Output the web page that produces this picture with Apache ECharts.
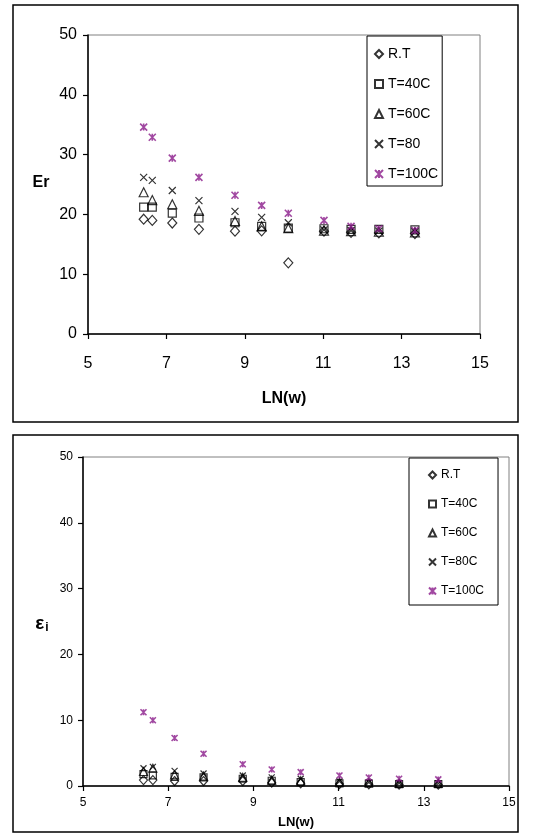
<!DOCTYPE html>
<html><head><meta charset="utf-8">
<script src="https://cdn.jsdelivr.net/npm/echarts@6/dist/echarts.min.js"></script>
<style>html,body{margin:0;padding:0;background:#fff}#c{width:533px;height:833px}</style>
</head><body><div id="c"></div>
<script>
const xVals = [6.42, 6.64, 7.15, 7.83, 8.75, 9.43, 10.11, 11.02, 11.71, 12.42, 13.34];
const topNames = ['R.T', 'T=40C', 'T=60C', 'T=80', 'T=100C'];
const botNames = ['R.T', 'T=40C', 'T=60C', 'T=80C', 'T=100C'];
const xTicks = [5, 7, 9, 11, 13, 15];
const yTicks = [0, 10, 20, 30, 40, 50];

const erRT  = [19.2, 19.0, 18.55, 17.5, 17.2, 17.25, 11.9, 17.2, 17.0, 16.9, 16.8];
const er40  = [21.2, 21.2, 20.2, 19.4, 18.6, 18.0, 17.7, 17.6, 17.5, 17.5, 17.4];
const er60  = [23.7, 22.4, 21.7, 20.6, 18.9, 18.0, 17.7, 17.3, 17.2, 17.1, 17.0];
const er80  = [26.2, 25.7, 24.0, 22.3, 20.5, 19.5, 18.6, 17.4, 17.3, 17.2, 17.1];
const er100 = [34.6, 32.9, 29.4, 26.2, 23.2, 21.5, 20.2, 19.0, 18.0, 17.6, 17.3];

const eiRT  = [0.9, 0.9, 0.75, 0.75, 0.75, 0.5, 0.4, 0.3, 0.25, 0.2, 0.2];
const ei40  = [1.8, 1.6, 1.4, 1.3, 1.1, 0.8, 0.6, 0.4, 0.35, 0.3, 0.3];
const ei60  = [2.2, 2.7, 1.7, 1.5, 1.3, 0.9, 0.8, 0.6, 0.5, 0.4, 0.4];
const ei80  = [2.7, 2.9, 2.3, 1.9, 1.6, 1.3, 1.1, 0.7, 0.55, 0.45, 0.4];
const ei100 = [11.2, 10.0, 7.3, 4.9, 3.3, 2.5, 2.1, 1.6, 1.3, 1.1, 1.0];

const FONT = 'Liberation Sans';
const PURPLE = '#8a1a8a';
const symX = 'path://M0,0L10,10M10,0L0,10';
const symAst = 'path://M0,0L10,10M10,0L0,10M5,0L5,10';
const markers = [
  {symbol: 'diamond', color: '#000', w: 1.2, size: [9, 10]},
  {symbol: 'rect', color: '#000', w: 1.2, size: 8},
  {symbol: 'triangle', color: '#000', w: 1.2, size: 9},
  {symbol: symX, color: '#000', w: 1.2, size: 7},
  {symbol: symAst, color: PURPLE, w: 1.6, size: 7}
];

function pairs(ys) { return xVals.map((x, i) => [x, ys[i]]); }

const topData = [erRT, er40, er60, er80, er100];
const botData = [eiRT, ei40, ei60, ei80, ei100];

const series = [];
topData.forEach((d, i) => {
  const m = markers[i];
  series.push({type: 'scatter', name: topNames[i], xAxisIndex: 0, yAxisIndex: 0,
    symbol: m.symbol, symbolSize: m.size, data: pairs(d), z: 2 + i,
    itemStyle: {color: 'rgba(0,0,0,0)', borderColor: m.color, borderWidth: m.w}});
});
botData.forEach((d, i) => {
  const m = markers[i];
  const sz = Array.isArray(m.size) ? [m.size[0] - 1, m.size[1] - 1] : m.size - 1;
  series.push({type: 'scatter', name: botNames[i], xAxisIndex: 1, yAxisIndex: 1,
    symbol: m.symbol, symbolSize: sz, data: pairs(d), z: 2 + i,
    itemStyle: {color: 'rgba(0,0,0,0)', borderColor: m.color, borderWidth: m.w}});
});

function xAxis(grid, fs, margin) {
  return {type: 'value', gridIndex: grid, min: xTicks[0], max: xTicks[xTicks.length - 1], interval: 2,
    axisLine: {onZero: false, lineStyle: {color: '#000', width: 1.5}},
    axisTick: {length: 5, lineStyle: {color: '#000', width: 1.2}},
    axisLabel: {color: '#000', fontFamily: FONT, fontSize: fs, margin: margin},
    splitLine: {show: false}};
}
function yAxis(grid, fs, margin) {
  return {type: 'value', gridIndex: grid, min: yTicks[0], max: yTicks[yTicks.length - 1], interval: 10,
    axisLine: {show: true, lineStyle: {color: '#000', width: 1.5}},
    axisTick: {show: true, length: 5, lineStyle: {color: '#000', width: 1.2}},
    axisLabel: {color: '#000', fontFamily: FONT, fontSize: fs, margin: margin},
    splitLine: {show: false}};
}

const option = {
  animation: false,
  backgroundColor: '#fff',
  grid: [
    {left: 88, right: 53, top: 35, bottom: 499, show: true, borderColor: '#808080', borderWidth: 1},
    {left: 83, right: 24, top: 457, bottom: 47, show: true, borderColor: '#808080', borderWidth: 1}
  ],
  xAxis: [xAxis(0, 16, 22), xAxis(1, 12, 11)],
  yAxis: [yAxis(0, 16, 11), yAxis(1, 12, 10)],
  legend: [
    {data: topNames, orient: 'vertical', left: 367, top: 36, itemWidth: 8, itemHeight: 8, itemGap: 16,
      padding: [11, 4, 5, 7], borderColor: '#000', borderWidth: 1, backgroundColor: '#fff',
      textStyle: {fontFamily: FONT, fontSize: 14, lineHeight: 14, color: '#000'}, selectedMode: false},
    {data: botNames, orient: 'vertical', left: 409, top: 458, itemWidth: 7, itemHeight: 7, itemGap: 17,
      padding: [11, 14, 8, 19], borderColor: '#000', borderWidth: 1, backgroundColor: '#fff',
      textStyle: {fontFamily: FONT, fontSize: 12, lineHeight: 12, color: '#000'}, selectedMode: false}
  ],
  graphic: [
    {type: 'rect', shape: {x: 13, y: 5, width: 505, height: 417}, style: {fill: 'none', stroke: '#000', lineWidth: 1.5}, z: 0, silent: true},
    {type: 'rect', shape: {x: 13, y: 435, width: 505, height: 397}, style: {fill: 'none', stroke: '#000', lineWidth: 1.5}, z: 0, silent: true},
    {type: 'text', style: {text: 'LN(w)', x: 284, y: 399, align: 'center', verticalAlign: 'middle', font: 'bold 16px "Liberation Sans"', fill: '#000'}, z: 10},
    {type: 'text', style: {text: 'Er', x: 41, y: 183, align: 'center', verticalAlign: 'middle', font: 'bold 16px "Liberation Sans"', fill: '#000'}, z: 10},
    {type: 'text', style: {text: 'LN(w)', x: 296, y: 822, align: 'center', verticalAlign: 'middle', font: 'bold 13px "Liberation Sans"', fill: '#000'}, z: 10},
    {type: 'text', style: {text: '{e|ε}{i|i}', x: 42, y: 624, align: 'center', verticalAlign: 'middle',
      rich: {e: {font: 'bold 19px "Liberation Sans"', fill: '#000'}, i: {font: 'bold 12px "Liberation Sans"', fill: '#000', padding: [8, 0, 0, 1]}}}, z: 10}
  ],
  series: series
};
const chart = echarts.init(document.getElementById('c'), null, {renderer: 'canvas'});
chart.setOption(option);
</script></body></html>
